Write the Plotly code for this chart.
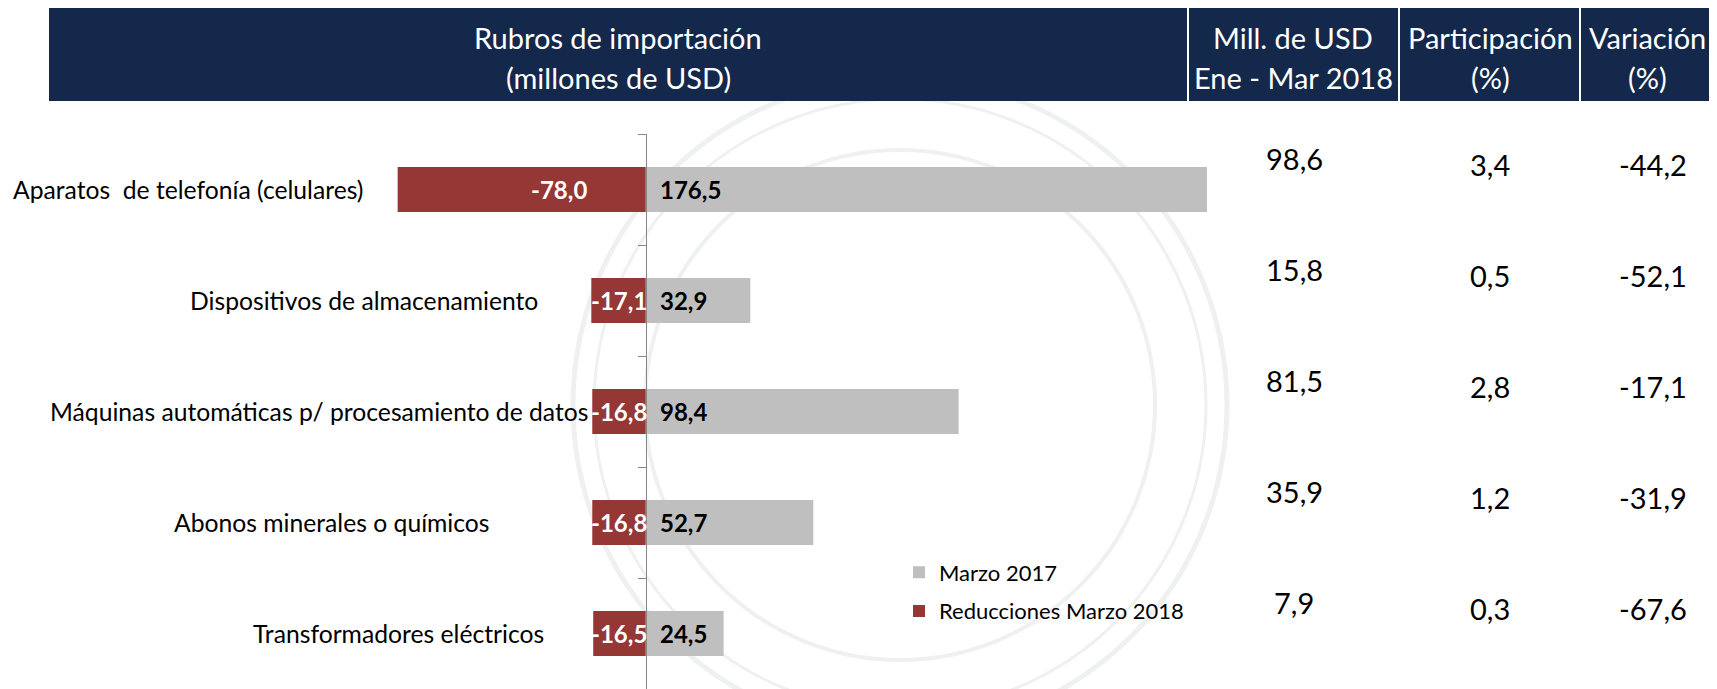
import plotly.graph_objects as go

# ---------------- data ----------------
categories = [
    "Aparatos  de telefonía (celulares)",
    "Dispositivos de almacenamiento",
    "Máquinas automáticas p/ procesamiento de datos",
    "Abonos minerales o químicos",
    "Transformadores eléctricos",
]
marzo_2017 = [176.5, 32.9, 98.4, 52.7, 24.5]
reducciones_2018 = [-78.0, -17.1, -16.8, -16.8, -16.5]
mill_usd_2018 = [98.6, 15.8, 81.5, 35.9, 7.9]
participacion = [3.4, 0.5, 2.8, 1.2, 0.3]
variacion = [-44.2, -52.1, -17.1, -31.9, -67.6]

series_names = ["Marzo 2017", "Reducciones Marzo 2018"]
header_main = ["Rubros de importación", "(millones de USD)"]
header_cols = [["Mill. de USD", "Ene - Mar 2018"], ["Participación", "(%)"], ["Variación", "(%)"]]

# ---------------- layout constants ----------------
OFF = 8                      # page body margin
W, H = 1717 - OFF, 689 - OFF
TOP = 134 - OFF
FONT = "Lato"
NAVY = "#14284b"
RED = "#953735"
GRAY = "#bfbfbf"
AXIS = "#868686"

px_per_unit = 3.18
axis_px = 645.7 - OFF
xmin = -axis_px / px_per_unit
xmax = (W - axis_px) / px_per_unit


def fmt(v):
    return f"{v:.1f}".replace(".", ",")


def py(p):  # page pixel y (from top) -> paper y
    return (H - (p - OFF)) / (H - TOP)


def pxx(p):  # page pixel x -> paper x
    return (p - OFF) / W


fig = go.Figure()
fig.add_trace(go.Bar(
    y=categories, x=marzo_2017, orientation="h", name=series_names[0],
    marker=dict(color=GRAY, line=dict(width=0)), legendgroup="a",
    hoverinfo="x+y",
))
fig.add_trace(go.Bar(
    y=categories, x=reducciones_2018, orientation="h", name=series_names[1],
    marker=dict(color=RED, line=dict(width=0)), legendgroup="b",
    hoverinfo="x+y",
))

shapes = []
# faint watermark rings
for r, w in [(327, 5), (306, 3), (255, 4)]:
    cx, cy = 900, 405
    shapes.append(dict(type="circle", xref="paper", yref="paper", layer="below",
                       x0=pxx(cx - r), x1=pxx(cx + r), y0=py(cy + r), y1=py(cy - r),
                       line=dict(color="#eef1ef", width=w)))
# header band
shapes.append(dict(type="rect", xref="paper", yref="paper",
                   x0=pxx(49), x1=pxx(1717 + 5), y0=py(101), y1=py(OFF - 1),
                   fillcolor=NAVY, line=dict(width=0)))
for sx in [1188, 1399, 1580]:
    shapes.append(dict(type="line", xref="paper", yref="paper",
                       x0=pxx(sx), x1=pxx(sx), y0=py(101), y1=py(OFF - 1),
                       line=dict(color="white", width=2)))

ann = []
hfont = dict(family=FONT, size=29, color="white")
ann.append(dict(x=pxx(618), y=py(37), text=header_main[0]))
ann.append(dict(x=pxx(618), y=py(78), text=header_main[1]))
for cx, (l1, l2) in zip([1293, 1490, 1647], header_cols):
    ann.append(dict(x=pxx(cx), y=py(37), text=l1))
    ann.append(dict(x=pxx(cx), y=py(78), text=l2))
for a in ann:
    a.update(xref="paper", yref="paper", showarrow=False, font=hfont,
             xanchor="center", yanchor="middle")

# category labels (manually placed text boxes)
label_right_px = [365, 540, 590, 492, 546]
for cat, rx in zip(categories, label_right_px):
    ann.append(dict(x=pxx(rx), y=cat, xref="paper", yref="y", showarrow=False,
                    text=cat.replace("  ", "\u00a0 "), xanchor="right", yanchor="middle",
                    font=dict(family=FONT, size=24.7, color="black")))

# data labels
for cat, v in zip(categories, marzo_2017):
    ann.append(dict(x=0, y=cat, xref="x", yref="y", showarrow=False, text=fmt(v),
                    xanchor="left", yanchor="middle", xshift=12,
                    font=dict(family=FONT, size=24, color="black", weight="bold")))
for cat, v in zip(categories, reducciones_2018):
    xpos = v / 2 if abs(v) < 40 else v * 0.35
    ann.append(dict(x=xpos, y=cat, xref="x", yref="y", showarrow=False, text=fmt(v),
                    xanchor="center", yanchor="middle",
                    font=dict(family=FONT, size=24, color="white", weight="bold")))

# right-hand table columns
col_specs = [(mill_usd_2018, 1294, 31), (participacion, 1490, 25), (variacion, 1653, 25)]
for vals, cx, ys in col_specs:
    for cat, v in zip(categories, vals):
        ann.append(dict(x=pxx(cx), y=cat, xref="paper", yref="y", showarrow=False,
                        text=fmt(v), xanchor="center", yanchor="middle", yshift=ys,
                        font=dict(family=FONT, size=29, color="black")))

ypos = (0 - xmin) / (xmax - xmin)

fig.update_layout(
    width=W, height=H,
    margin=dict(l=0, r=0, t=TOP, b=0, pad=0),
    paper_bgcolor="white", plot_bgcolor="rgba(0,0,0,0)",
    barmode="relative", bargap=0.595,
    font=dict(family=FONT, size=22, color="black"),
    xaxis=dict(range=[xmin, xmax], visible=False, fixedrange=True),
    yaxis=dict(range=[4.5, -0.5], type="category", anchor="free", position=ypos,
               showline=True, linecolor=AXIS, linewidth=1.3,
               ticks="outside", tickson="boundaries", ticklen=8, tickcolor=AXIS,
               tickwidth=1.3, showticklabels=False, showgrid=False, zeroline=False,
               fixedrange=True),
    legend=dict(x=pxx(899), y=py(551.5), xanchor="left", yanchor="top",
                font=dict(family=FONT, size=22, color="black"),
                bgcolor="rgba(0,0,0,0)", tracegroupgap=7, traceorder="grouped"),
    shapes=shapes,
    annotations=ann,
    showlegend=True,
)

fig.write_html("out.html")
